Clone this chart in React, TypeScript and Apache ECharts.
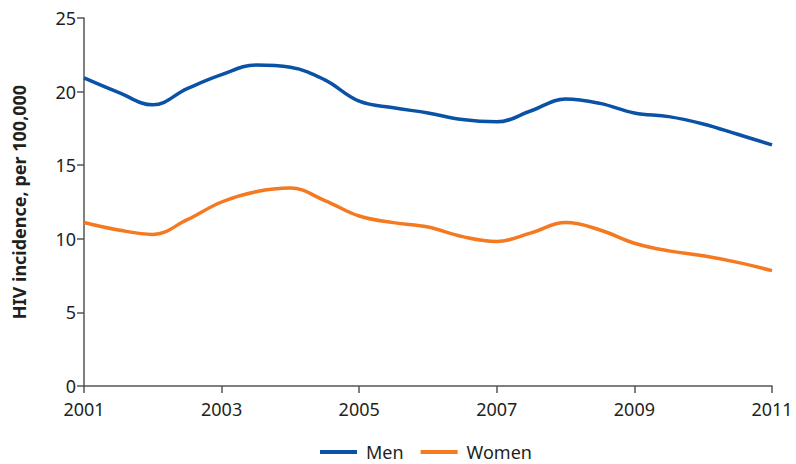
import React, { useEffect, useRef } from "react";
import * as echarts from "echarts";

const years = [
  2001, 2001.5, 2002, 2002.5, 2003, 2003.5, 2004, 2004.5, 2005, 2005.5, 2006,
  2006.5, 2007, 2007.5, 2008, 2008.5, 2009, 2009.5, 2010, 2010.5, 2011,
];
const men = [
  20.93, 19.95, 19.1, 20.2, 21.15, 21.8, 21.65, 20.8, 19.35, 18.9, 18.55,
  18.1, 17.95, 18.7, 19.5, 19.2, 18.55, 18.3, 17.8, 17.1, 16.38,
];
const women = [
  11.11, 10.6, 10.3, 11.3, 12.5, 13.2, 13.45, 12.6, 11.55, 11.1, 10.8,
  10.15, 9.82, 10.4, 11.1, 10.6, 9.7, 9.18, 8.85, 8.4, 7.84,
];
const seriesNames = ["Men", "Women"];
const yAxisTitle = "HIV incidence, per 100,000";
const baseYear = 2001;

const FONT = "'Noto Sans', sans-serif";

export default function App() {
  const ref = useRef<HTMLDivElement>(null);
  useEffect(() => {
    if (!ref.current) return;
    const chart = echarts.init(ref.current, null, { renderer: "svg" });
    const toPairs = (vals: number[]) => years.map((y, i) => [y - baseYear, vals[i]]);
    chart.setOption({
      animation: false,
      backgroundColor: "#ffffff",
      textStyle: { fontFamily: FONT },
      grid: { left: 84, right: 24, top: 18, bottom: 78, containLabel: false },
      legend: {
        data: seriesNames,
        top: 443,
        left: 315,
        padding: [0, 5, 0, 5],
        icon: "rect",
        itemWidth: 37,
        itemHeight: 4,
        itemGap: 17,
        textStyle: { fontFamily: FONT, fontSize: 18, color: "#231f20", padding: [0, 0, 0, 4] },
      },
      xAxis: {
        type: "value",
        min: 0,
        max: 10,
        interval: 2,
        axisLine: { show: true, lineStyle: { color: "#555", width: 1.5 } },
        axisTick: { show: true, length: 7, lineStyle: { color: "#555", width: 1.5 } },
        splitLine: { show: false },
        axisLabel: {
          margin: 14,
          fontSize: 18,
          fontFamily: FONT,
          color: "#231f20",
          formatter: (v: number) => String(v + baseYear),
        },
      },
      yAxis: {
        type: "value",
        min: 0,
        max: 25,
        interval: 5,
        name: yAxisTitle,
        nameLocation: "middle",
        nameGap: 56,
        nameTextStyle: { fontFamily: FONT, fontSize: 18, fontWeight: "bold", color: "#231f20" },
        axisLine: { show: true, lineStyle: { color: "#555", width: 1.5 } },
        axisTick: { show: true, length: 7, lineStyle: { color: "#555", width: 1.5 } },
        splitLine: { show: false },
        axisLabel: { margin: 8, fontSize: 18, fontFamily: FONT, color: "#231f20" },
      },
      series: [
        {
          name: seriesNames[0],
          type: "line",
          data: toPairs(men),
          smooth: 0.4,
          symbol: "none",
          lineStyle: { width: 3.5, color: "#0a52a6" },
          itemStyle: { color: "#0a52a6" },
        },
        {
          name: seriesNames[1],
          type: "line",
          data: toPairs(women),
          smooth: 0.4,
          symbol: "none",
          lineStyle: { width: 3.5, color: "#f47920" },
          itemStyle: { color: "#f47920" },
        },
      ],
    });
    return () => chart.dispose();
  }, []);
  return (
    <div
      ref={ref}
      style={{ position: "fixed", left: 0, top: 0, width: 796, height: 464 }}
    />
  );
}
